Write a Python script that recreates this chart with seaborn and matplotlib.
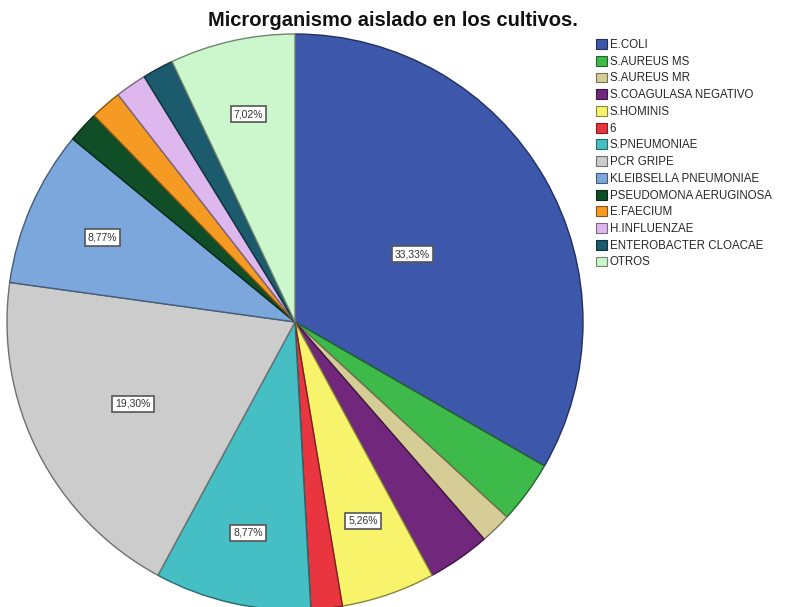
import matplotlib
matplotlib.use("Agg")
import matplotlib.pyplot as plt
import matplotlib.colors as mcolors
from matplotlib.patches import Patch
import seaborn as sns
import numpy as np

categories = ["E.COLI", "S.AUREUS MS", "S.AUREUS MR", "S.COAGULASA NEGATIVO",
              "S.HOMINIS", "6", "S.PNEUMONIAE", "PCR GRIPE", "KLEIBSELLA PNEUMONIAE",
              "PSEUDOMONA AERUGINOSA", "E.FAECIUM", "H.INFLUENZAE",
              "ENTEROBACTER CLOACAE", "OTROS"]
counts = [19, 2, 1, 2, 3, 1, 5, 11, 5, 1, 1, 1, 1, 4]
shown_labels = ["33,33%", "", "", "", "5,26%", "", "8,77%", "19,30%", "8,77%",
                "", "", "", "", "7,02%"]

colors = ["#3D57AB", "#3DBA4A", "#D5CD95", "#71287C", "#F7F36A", "#E8353F",
          "#45BFC3", "#CCCCCC", "#7BA7DC", "#0F4E27", "#F59A22", "#DDB7EE",
          "#1C5A6E", "#CCF6CC"]
label_r = [0.47, 0, 0, 0, 0.73, 0, 0.75, 0.63, 0.73, 0, 0, 0, 0, 0.74]

sns.set_theme(style="white")
plt.rcParams['font.family'] = ['Liberation Sans', 'DejaVu Sans']

fig = plt.figure(figsize=(7.92, 6.07), dpi=100)
W, H = 792, 607
cx, cy, R = 295, 322, 288
ax = fig.add_axes([(cx - R) / W, (H - cy - R) / H, 2 * R / W, 2 * R / H])

def darker(c, f=0.6):
    r, g, b = mcolors.to_rgb(c)
    return (r * f, g * f, b * f)

wedges, _ = ax.pie(counts, colors=colors, startangle=90, counterclock=False,
                   radius=1.0, wedgeprops=dict(linewidth=1.0))
for w, c in zip(wedges, colors):
    w.set_edgecolor(darker(c, 0.55))
ax.set_xlim(-1, 1)
ax.set_ylim(-1, 1)
ax.set_aspect('equal')
ax.axis('off')

for w, lab, r in zip(wedges, shown_labels, label_r):
    if not lab:
        continue
    ang = np.deg2rad((w.theta1 + w.theta2) / 2)
    ax.text(r * np.cos(ang), r * np.sin(ang), lab, ha='center', va='center',
            fontsize=7.5, color='#333333',
            bbox=dict(boxstyle='square,pad=0.3', facecolor='white',
                      edgecolor='#555555', linewidth=1.2))

fig.text(393 / W, 1 - 21 / H, "Microrganismo aislado en los cultivos.", ha='center',
         va='center', fontsize=14.5, fontweight='bold', color='#111111')

handles = [Patch(facecolor=c, edgecolor=darker(c, 0.55), linewidth=0.8) for c in colors]
fig.legend(handles, categories, loc='upper left',
           bbox_to_anchor=(596 / W, 1 - 39 / H), frameon=False,
           fontsize=8.3, handlelength=0.95, handleheight=0.95, handletextpad=0.25,
           labelspacing=0.41, borderaxespad=0, borderpad=0)

fig.savefig("out.png", dpi=100)
